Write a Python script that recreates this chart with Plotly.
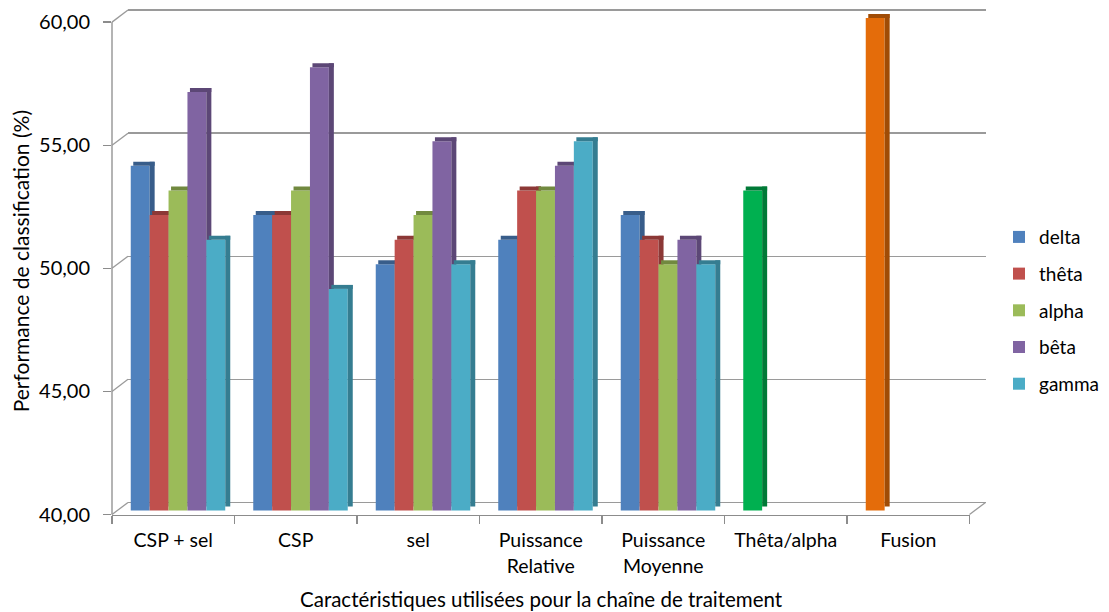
import plotly.graph_objects as go

categories = ["CSP + sel", "CSP", "sel", "Puissance<br>Relative", "Puissance<br>Moyenne", "Thêta/alpha", "Fusion"]
band_categories = categories[:5]
series_names = ["delta", "thêta", "alpha", "bêta", "gamma"]
delta = [54, 52, 50, 51, 52]
theta = [52, 52, 51, 53, 51]
alpha = [53, 53, 52, 53, 50]
beta = [57, 58, 55, 54, 51]
gamma = [51, 49, 50, 55, 50]
theta_alpha_value = [53]
fusion_value = [60]
y_ticks = [40, 45, 50, 55, 60]

front_colors = ["#4F81BD", "#C0504D", "#9BBB59", "#8064A2", "#4BACC6"]
side_colors = ["#385D8A", "#8C3836", "#71893F", "#5C4776", "#357D91"]

W, H = 1109, 612               # reference picture size (layout fractions are based on it)
FIG_H = 626                    # figure height
X0, X1 = 112.0, 969.5          # front axis pixel extent
Y40, Y60 = 512.0, 22.0         # front axis pixels for 40 and 60
PPU = (Y40 - Y60) / 20.0       # pixels per unit
DX, DY = 16.0, 12.0            # wall depth offset
YMAX = 60.5
PAD = 0.3                      # wall axis padding so edge gridlines are drawn
cat_px = (X1 - X0) / len(categories)

bw = 18.9 / cat_px             # bar width in category units
off0 = -42.5 / cat_px          # offset of first bar from category centre
sdx = 5.0 / cat_px             # bar depth in x (category units)
sdy = 4.0 / PPU                # bar depth in y (value units)
lift = 4.0 / PPU               # front face lift above floor edge

FONT = "Lato"

fig = go.Figure()

# invisible trace so that the back-wall subplot (x, y) is created
fig.add_trace(go.Scatter(x=[None], y=[None], xaxis="x", yaxis="y", showlegend=False,
                         hoverinfo="skip", mode="markers"))


def add_bar3d(xs, vals, slot, front, side, name, legend):
    off = off0 + slot * bw
    heights = [v - 40 for v in vals]
    common = dict(xaxis="x2", yaxis="y2", hoverinfo="skip", legendgroup=name)
    fig.add_trace(go.Bar(x=xs, y=heights, base=40 + lift, offset=off, width=bw,
                         marker=dict(color=front, line=dict(width=0)), name=name,
                         showlegend=legend, **common))
    fig.add_trace(go.Bar(x=xs, y=[sdy] * len(vals), base=[v + lift for v in vals],
                         offset=off + sdx * 0.5, width=bw + sdx * 0.5,
                         marker=dict(color=side, line=dict(width=0)), showlegend=False, **common))
    fig.add_trace(go.Bar(x=xs, y=heights, base=40 + lift + sdy, offset=off + bw, width=sdx,
                         marker=dict(color=side, line=dict(width=0)), showlegend=False, **common))


for i, (nm, vals) in enumerate(zip(series_names, [delta, theta, alpha, beta, gamma])):
    add_bar3d(band_categories, vals, i, front_colors[i], side_colors[i], nm, True)

add_bar3d([categories[5]], theta_alpha_value, 0, "#00B050", "#007A37", "Thêta/alpha", False)
add_bar3d([categories[6]], fusion_value, 0, "#E46C0A", "#A04C06", "Fusion", False)


def py(px):
    return 1 - px / H


def px_(x):
    return x / W


fig.update_layout(
    xaxis=dict(domain=[px_(X0 + DX), px_(X1 + DX)], range=[0, 1], showgrid=False,
               zeroline=False, showline=False, showticklabels=False, ticks="",
               fixedrange=True, anchor="y"),
    yaxis=dict(domain=[py(Y40 - DY + PAD * PPU), py(Y60 - DY - PAD * PPU)],
               range=[40 - PAD, 60 + PAD], tickvals=y_ticks,
               showgrid=True, gridcolor="#9A9A9A", gridwidth=1.4, showticklabels=False,
               zeroline=False, showline=False, ticks="", anchor="x"),
    xaxis2=dict(domain=[px_(X0), px_(X1)], type="category", categoryorder="array",
                categoryarray=categories, range=[-0.5, len(categories) - 0.5],
                anchor="y2", showline=True, linecolor="#8C8C8C", linewidth=1.3,
                ticks="outside", tickson="boundaries", ticklen=8, tickcolor="#8C8C8C",
                tickwidth=1.3, showgrid=False, ticklabelstandoff=8,
                tickfont=dict(family=FONT, size=19.5, color="#000")),
    yaxis2=dict(domain=[py(Y40), py(Y40 - (YMAX - 40) * PPU)], range=[40, YMAX],
                tickvals=y_ticks, tickformat=".2f", anchor="x2", showgrid=False,
                zeroline=False, showline=False, ticks="outside", ticklen=8,
                tickcolor="#8C8C8C", tickwidth=1.3, ticklabelstandoff=9,
                tickfont=dict(family=FONT, size=20, color="#000")),
    barmode="overlay",
    separators=", ",
    width=W, height=FIG_H,
    margin=dict(l=0, r=0, t=0, b=0),
    paper_bgcolor="white",
    plot_bgcolor="rgba(0,0,0,0)",
    legend=dict(x=px_(999), y=py(217), xanchor="left", yanchor="top",
                traceorder="grouped", tracegroupgap=9,
                font=dict(family=FONT, size=19, color="#000"),
                itemwidth=30, bgcolor="rgba(0,0,0,0)"),
    showlegend=True,
)

shapes = []
line_style = dict(color="#8C8C8C", width=1.3)
# y axis line
shapes.append(dict(type="line", xref="paper", yref="paper", x0=px_(X0), x1=px_(X0),
                   y0=py(Y40), y1=py(Y60), line=line_style, layer="below"))
# diagonal connectors from front ticks to wall gridlines
for v in y_ticks:
    yp = Y40 - (v - 40) * PPU
    shapes.append(dict(type="line", xref="paper", yref="paper", x0=px_(X0), x1=px_(X0 + DX),
                       y0=py(yp), y1=py(yp - DY), line=dict(color="#9A9A9A", width=1.3),
                       layer="below"))
# right floor edge
shapes.append(dict(type="line", xref="paper", yref="paper", x0=px_(X1), x1=px_(X1 + DX),
                   y0=py(Y40), y1=py(Y40 - DY), line=dict(color="#9A9A9A", width=1.3),
                   layer="below"))
fig.update_layout(shapes=shapes)

fig.add_annotation(text="Caractéristiques utilisées pour la chaîne de traitement",
                   xref="paper", yref="paper", x=px_(541), y=py(596), showarrow=False,
                   font=dict(family=FONT, size=20.5, color="#000"), xanchor="center",
                   yanchor="middle")
fig.add_annotation(text="Performance de classification (%)", xref="paper", yref="paper",
                   x=px_(20), y=py(260), showarrow=False, textangle=-90,
                   font=dict(family=FONT, size=21, color="#000"), xanchor="center",
                   yanchor="middle")

page_js = (
    "var h=document.documentElement, b=document.body;"
    "h.style.margin='0'; h.style.padding='0'; h.style.overflow='hidden';"
    "b.style.margin='0'; b.style.padding='0'; b.style.overflow='hidden';"
)
fig.write_html("out.html", config={"displayModeBar": False, "staticPlot": True},
               post_script=page_js)
